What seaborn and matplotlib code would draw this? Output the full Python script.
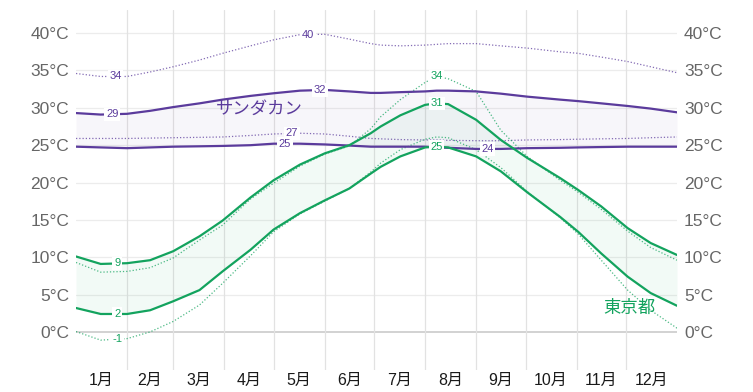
import numpy as np
import pandas as pd
import matplotlib
matplotlib.use("Agg")
import matplotlib.pyplot as plt
import seaborn as sns

# day of year where each value was read
days = [0, 15, 31, 45, 59, 75, 89, 106, 120, 136, 151, 166, 179, 185,
        197, 212, 219, 226, 243, 258, 274, 294, 305, 319, 335, 349, 365]

# Sandakan (purple)
sdk_high = [29.3, 29.1, 29.2, 29.6, 30.1, 30.6, 31.1, 31.6, 31.95, 32.3, 32.4, 32.2, 32.0, 32.0,
            32.1, 32.2, 32.3, 32.3, 32.2, 31.9, 31.5, 31.1, 30.9, 30.6, 30.25, 29.9, 29.4]
sdk_low = [24.8, 24.7, 24.6, 24.7, 24.8, 24.85, 24.9, 25.0, 25.2, 25.2, 25.1, 24.95, 24.8, 24.8,
           24.8, 24.8, 24.7, 24.65, 24.5, 24.5, 24.6, 24.65, 24.7, 24.75, 24.8, 24.8, 24.8]
sdk_high_p90 = [34.6, 34.2, 34.2, 34.8, 35.5, 36.4, 37.3, 38.3, 39.1, 39.8, 39.85, 39.2, 38.6, 38.4,
                38.3, 38.4, 38.5, 38.6, 38.6, 38.3, 38.0, 37.5, 37.3, 36.8, 36.2, 35.5, 34.7]
sdk_low_p10 = [25.9, 25.9, 25.9, 25.95, 26.0, 26.05, 26.1, 26.3, 26.5, 26.6, 26.5, 26.2, 25.9, 25.85,
               25.75, 25.7, 25.7, 25.65, 25.6, 25.6, 25.7, 25.75, 25.8, 25.85, 25.9, 26.0, 26.1]

# Tokyo (green)
tky_high = [10.1, 9.1, 9.2, 9.6, 10.8, 12.8, 14.9, 18.0, 20.3, 22.4, 23.9, 25.0, 26.6, 27.5,
            29.0, 30.4, 30.6, 30.5, 28.4, 25.7, 23.3, 20.6, 19.0, 16.8, 13.9, 11.9, 10.3]
tky_low = [3.2, 2.4, 2.4, 2.9, 4.1, 5.6, 8.1, 11.0, 13.7, 15.9, 17.6, 19.2, 21.2, 22.1,
           23.5, 24.7, 24.8, 24.7, 23.5, 21.5, 18.7, 15.4, 13.4, 10.5, 7.4, 5.2, 3.5]
tky_high_p90 = [9.3, 8.0, 8.1, 8.6, 9.9, 12.3, 14.3, 17.8, 19.9, 22.2, 23.8, 24.9, 27.2, 28.8,
                31.1, 33.4, 34.2, 33.9, 32.2, 27.0, 23.5, 20.3, 18.7, 16.4, 13.5, 11.3, 9.6]
tky_low_p10 = [0.05, -1.1, -0.9, 0.0, 1.4, 3.6, 6.5, 10.2, 13.4, 15.8, 17.5, 19.2, 21.4, 22.6,
               24.4, 25.8, 26.1, 26.0, 24.4, 22.0, 18.8, 15.3, 13.1, 9.6, 5.6, 2.9, 0.5]

month_labels = ["1月", "2月", "3月", "4月", "5月", "6月", "7月", "8月", "9月", "10月", "11月", "12月"]
month_starts = [0, 31, 59, 90, 120, 151, 181, 212, 243, 273, 304, 334, 365]
y_ticks = [0, 5, 10, 15, 20, 25, 30, 35, 40]

PURPLE = "#5b3b9c"
GREEN = "#13a35e"

sns.set_theme(style="white")
plt.rcParams["font.family"] = ["Liberation Sans", "Noto Sans CJK JP"]

fig = plt.figure(figsize=(7.53, 3.92), dpi=100)
ax = fig.add_axes([76 / 753, 1 - 370 / 392, 601 / 753, 360 / 392])

# grid
for v in y_ticks:
    ax.axhline(v, color="#c6c6c6" if v == 0 else "#ececec", lw=1.1 if v == 0 else 0.9, zorder=0)
for d in month_starts[1:-1]:
    ax.axvline(d, color="#e2e2e2", lw=0.9, zorder=0)

# bands between mean high and mean low
ax.fill_between(days, sdk_low, sdk_high, color=PURPLE, alpha=0.045, lw=0, zorder=1)
ax.fill_between(days, tky_low, tky_high, color=GREEN, alpha=0.05, lw=0, zorder=1)

dotted = (0, (1, 1.6))
for vals, col in [(sdk_high_p90, PURPLE), (sdk_low_p10, PURPLE),
                  (tky_high_p90, GREEN), (tky_low_p10, GREEN)]:
    sns.lineplot(x=days, y=vals, ax=ax, color=col, lw=0.9, linestyle=dotted, alpha=0.75, zorder=2)
for vals, col in [(sdk_high, PURPLE), (sdk_low, PURPLE), (tky_high, GREEN), (tky_low, GREEN)]:
    sns.lineplot(x=days, y=vals, ax=ax, color=col, lw=1.6, zorder=3)

# value labels sitting on the lines
labels = [
    (24, sdk_high_p90, PURPLE), (22, sdk_high, PURPLE),
    (141, sdk_high_p90, PURPLE), (148, sdk_high, PURPLE),
    (131, sdk_low_p10, PURPLE), (127, sdk_low, PURPLE), (250, sdk_low, PURPLE),
    (219, tky_high_p90, GREEN), (219, tky_high, GREEN), (219, tky_low, GREEN),
    (25, tky_high, GREEN), (25, tky_low, GREEN), (25, tky_low_p10, GREEN),
]
for d, vals, col in labels:
    v = np.interp(d, days, vals)
    ax.text(d, v, f"{round(v):d}", color=col, fontsize=8, ha="center", va="center", zorder=5,
            bbox=dict(boxstyle="square,pad=0.15", fc="white", ec="none"))

ax.text(111, 29.85, "サンダカン", color=PURPLE, fontsize=12.5, ha="center", va="center", zorder=4,
        family=["Noto Sans CJK JP"])
ax.text(336, 3.2, "東京都", color=GREEN, fontsize=12.5, ha="center", va="center", zorder=4,
        family=["Noto Sans CJK JP"])

ax.set_xlim(0, 365)
ax.set_ylim(-5.1, 43.1)
mids = [(a + b) / 2 for a, b in zip(month_starts[:-1], month_starts[1:])]
ax.set_xticks(mids)
ax.set_xticklabels(month_labels, fontsize=11.5, color="#1a1a1a")
ax.set_yticks(y_ticks)
ax.set_yticklabels([f"{v}°C" for v in y_ticks], fontsize=12.5, color="#666666")
ax.tick_params(axis="x", length=0, pad=2)
ax.tick_params(axis="y", length=0, pad=5, labelright=True)
ax.set_xlabel("")
ax.set_ylabel("")
sns.despine(ax=ax, left=True, bottom=True)
ax.grid(False)

fig.savefig("out.png", dpi=100)
